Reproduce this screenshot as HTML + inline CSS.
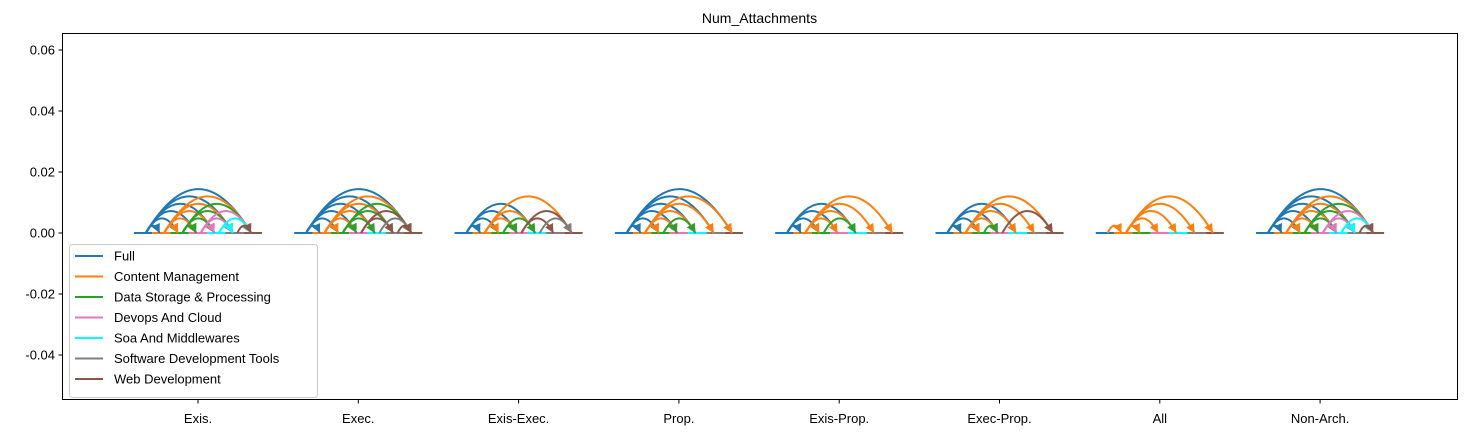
<!DOCTYPE html>
<html><head><meta charset="utf-8">
<style>
body{margin:0;background:#fff;}
svg{display:block;font-family:"Liberation Sans","DejaVu Sans",sans-serif;}
</style></head>
<body>
<svg id="chart" width="1466" height="435" viewBox="0 0 1466 435" xmlns="http://www.w3.org/2000/svg">
<rect width="1466" height="435" fill="#fff"/>
<text x="759.5" y="23" font-size="14" text-anchor="middle" fill="#000">Num_Attachments</text>
<g id="marks"></g>
<rect x="62.5" y="33.5" width="1395" height="366" fill="none" stroke="#000" stroke-width="1"/>
<g id="axes"></g>
<g id="legend"></g>
</svg>
<script>
const categories = ["Exis.","Exec.","Exis-Exec.","Prop.","Exis-Prop.","Exec-Prop.","All","Non-Arch."];
const seriesNames = ["Full","Content Management","Data Storage & Processing","Devops And Cloud","Soa And Middlewares","Software Development Tools","Web Development"];
const seriesColors = ["#1f77b4","#ff7f0e","#2ca02c","#e377c2","#00ffff","#7f7f7f","#8c564b"];
const yTicks = [0.06,0.04,0.02,0.00,-0.02,-0.04];
const heightPerStep = 0.0024;
// edges per group: [from, to, colorIndex]
const allPairs = [];
for (let i=0;i<7;i++) for (let j=i+1;j<7;j++) allPairs.push([i,j,i===5?6:i]);
const edgesExis = allPairs;
const edgesExec = [[0,1,0],[0,2,0],[0,3,0],[0,4,0],[0,5,0],[0,6,0],[1,2,1],[1,3,1],[1,4,1],[1,5,1],[1,6,1],[2,3,2],[2,4,2],[2,5,2],[2,6,2],[3,5,6],[3,6,6],[4,6,5],[5,6,6]];
const edgesExisExec = [[0,1,0],[0,2,0],[0,3,0],[0,4,0],[1,2,1],[1,3,1],[1,4,1],[1,6,1],[2,3,2],[2,4,2],[3,5,6],[3,6,6],[4,6,5]];
const edgesProp = [[0,1,0],[0,2,0],[0,3,0],[0,4,0],[0,5,0],[0,6,0],[1,2,1],[1,3,1],[1,4,1],[1,5,1],[1,6,1],[2,3,2],[2,4,2]];
const edgesExisProp = [[0,1,0],[0,2,0],[0,3,0],[0,4,0],[1,2,1],[1,3,1],[1,4,1],[1,5,1],[1,6,1],[2,4,2]];
const edgesExecProp = [[0,1,0],[0,2,0],[0,3,0],[0,4,0],[1,2,1],[1,3,1],[1,4,1],[1,5,1],[1,6,1],[2,3,2],[3,6,6]];
const edgesAll = [[0,1,1],[1,2,1],[1,3,1],[1,4,1],[1,5,1],[1,6,1]];
const edgesNonArch = allPairs;
const groupEdges = [edgesExis,edgesExec,edgesExisExec,edgesProp,edgesExisProp,edgesExecProp,edgesAll,edgesNonArch];

const NS="http://www.w3.org/2000/svg";
const xAxis = i => 198 + i*160.3;
const yAxis = v => 233 - v*3050;
const segW = 18.3;
const marks=document.getElementById('marks');
const axes=document.getElementById('axes');
const legend=document.getElementById('legend');
function mk(tag,attrs,parent){const e=document.createElementNS(NS,tag);for(const k in attrs)e.setAttribute(k,attrs[k]);parent.appendChild(e);return e;}

categories.forEach((cat,g)=>{
  const cx=xAxis(g), left=cx-3.5*segW;
  seriesColors.forEach((col,s)=>{
    const seg=mk('line',{x1:left+s*segW,x2:left+(s+1)*segW,y1:yAxis(0),y2:yAxis(0),stroke:col,'stroke-width':2},marks);
    
    
  });
  groupEdges[g].forEach(([a,b,c])=>{
    const x1=left+(a+0.65)*segW, x2=left+(b+0.4)*segW, y0=yAxis(0);
    const h=heightPerStep*(b-a);
    const cyv=yAxis(2*h), mx=(x1+x2)/2;
    const col=seriesColors[c];
    const p=mk('path',{d:`M${x1},${y0} Q${mx},${cyv} ${x2},${y0}`,fill:'none',stroke:col,'stroke-width':2},marks);
    
    
    const dx=x2-mx, dy=y0-cyv, L=Math.hypot(dx,dy), ux=dx/L, uy=dy/L;
    const al=9, aw=4.5;
    const bx=x2-ux*al, by=y0-uy*al;
    const ah=mk('polygon',{points:`${x2},${y0} ${bx-uy*aw},${by+ux*aw} ${bx+uy*aw},${by-ux*aw}`,fill:col},marks);
    
    
  });
  mk('line',{x1:cx,x2:cx,y1:400,y2:403.5,stroke:'#000'},axes);
  const t=mk('text',{x:cx,y:423,'font-size':13,'text-anchor':'middle',fill:'#000'},axes);
  t.textContent=cat;
  
  
});
yTicks.forEach(v=>{
  const y=yAxis(v);
  mk('line',{x1:58.5,x2:62.5,y1:y,y2:y,stroke:'#000'},axes);
  const t=mk('text',{x:55,y:y+4.5,'font-size':13,'text-anchor':'end',fill:'#000'},axes);
  t.textContent=v.toFixed(2);
  
  
});
const box=mk('rect',{x:69.5,y:244.5,width:248,height:153,rx:3,fill:'#fff','fill-opacity':0.8,stroke:'#ccc'},legend);


seriesNames.forEach((n,i)=>{
  const y=256+i*20.5;
  const g=mk('g',{},legend);
  
  
  mk('line',{x1:75,x2:103,y1:y,y2:y,stroke:seriesColors[i],'stroke-width':2},g);
  const t=mk('text',{x:114,y:y+4.5,'font-size':13,fill:'#000'},g);
  t.textContent=n;
});
</script>
</body></html>
